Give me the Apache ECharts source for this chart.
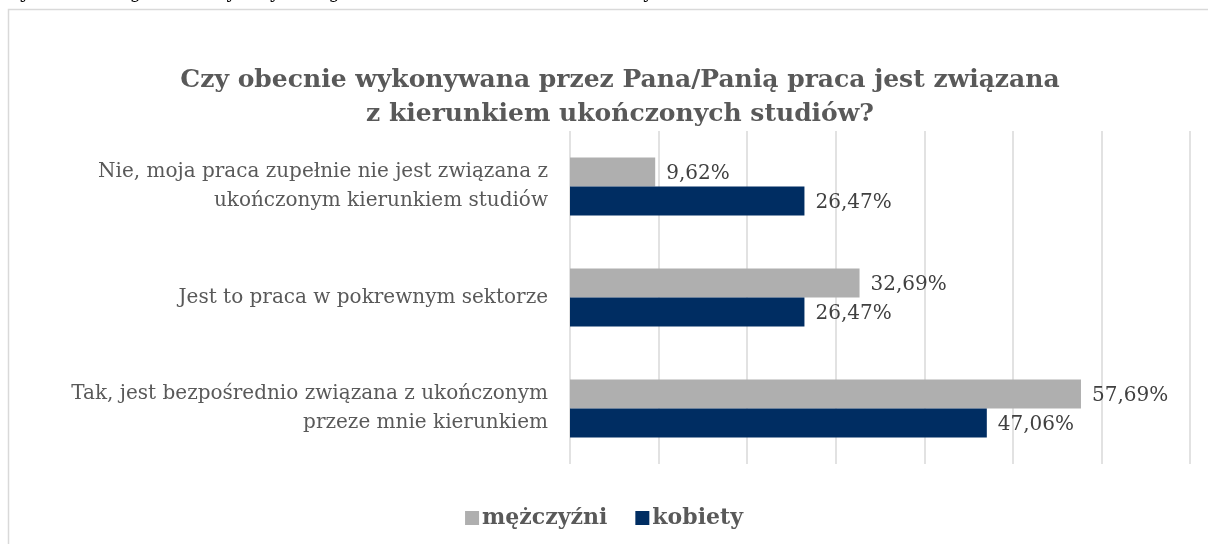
<!DOCTYPE html>
<html>
<head>
<meta charset="utf-8">
<script src="https://cdn.jsdelivr.net/npm/echarts@6/dist/echarts.min.js"></script>
<style>
  html, body { margin: 0; padding: 0; background: #fff; }
  #main { width: 1208px; height: 544px; }
</style>
</head>
<body>
<div id="main"></div>
<script>
// dane z wykresu
var categories = [
  'Nie, moja praca zupełnie nie jest związana z\nukończonym kierunkiem studiów',
  'Jest to praca w pokrewnym sektorze',
  'Tak, jest bezpośrednio związana z ukończonym\nprzeze mnie kierunkiem'
];
var mezczyzni = [9.62, 32.69, 57.69];
var kobiety = [26.47, 26.47, 47.06];

var chart = echarts.init(document.getElementById('main'));

var serif = '"DejaVu Serif", "Liberation Serif", serif';

function fmt(p) {
  return p.value.toFixed(2).replace('.', ',') + '%';
}

var option = {
  backgroundColor: '#fff',
  animation: false,
  title: {
    text: 'Czy obecnie wykonywana przez Pana/Panią praca jest związana\nz kierunkiem ukończonych studiów?',
    left: 615,
    textAlign: 'center',
    top: 58,
    textStyle: {
      fontFamily: serif,
      fontSize: 25,
      fontWeight: 'bold',
      color: '#595959',
      lineHeight: 34
    }
  },
  graphic: [
    {
      type: 'rect',
      shape: { x: 8.5, y: 9.5, width: 1210, height: 540 },
      style: { fill: 'none', stroke: '#d9d9d9', lineWidth: 1.5 }
    },
    {
      type: 'text',
      left: 0,
      top: -16,
      style: {
        text: '{b|Wykres 4.2} Zgodność wykonywanego zawodu z kierunkiem ukończonych studiów absolwentów i absolwentek UMG',
        font: '18px ' + serif,
        fill: '#000',
        rich: {
          b: { fontWeight: 'bold', fontFamily: serif, fontSize: 18 }
        }
      }
    }
  ],
  legend: {
    data: ['mężczyźni', 'kobiety'],
    bottom: 10,
    left: 'center',
    icon: 'rect',
    itemWidth: 14,
    itemHeight: 14,
    itemGap: 28,
    textStyle: {
      fontFamily: serif,
      fontSize: 22,
      fontWeight: 'bold',
      color: '#595959',
      padding: [0, 0, 0, -2]
    }
  },
  grid: {
    left: 570,
    right: 18,
    top: 131,
    height: 333
  },
  xAxis: {
    type: 'value',
    min: 0,
    max: 70,
    interval: 10,
    axisLabel: { show: false },
    axisLine: { show: false },
    axisTick: { show: false },
    splitLine: { lineStyle: { color: '#d9d9d9', width: 1.5 } }
  },
  yAxis: {
    type: 'category',
    inverse: true,
    data: categories,
    axisLine: { show: false },
    axisTick: { show: false },
    axisLabel: {
      margin: 22,
      fontFamily: serif,
      fontSize: 20,
      color: '#595959',
      lineHeight: 29,
      align: 'right'
    }
  },
  series: [
    {
      name: 'mężczyźni',
      type: 'bar',
      data: mezczyzni,
      barWidth: 29,
      barGap: '0%',
      itemStyle: { color: '#afafaf' },
      label: {
        show: true,
        position: 'right',
        distance: 11,
        offset: [0, 2],
        formatter: fmt,
        fontFamily: serif,
        fontSize: 20,
        color: '#404040'
      }
    },
    {
      name: 'kobiety',
      type: 'bar',
      data: kobiety,
      barWidth: 29,
      barGap: '0%',
      itemStyle: { color: '#002d62' },
      label: {
        show: true,
        position: 'right',
        distance: 11,
        offset: [0, 2],
        formatter: fmt,
        fontFamily: serif,
        fontSize: 20,
        color: '#404040'
      }
    }
  ]
};

chart.setOption(option);
</script>
</body>
</html>
